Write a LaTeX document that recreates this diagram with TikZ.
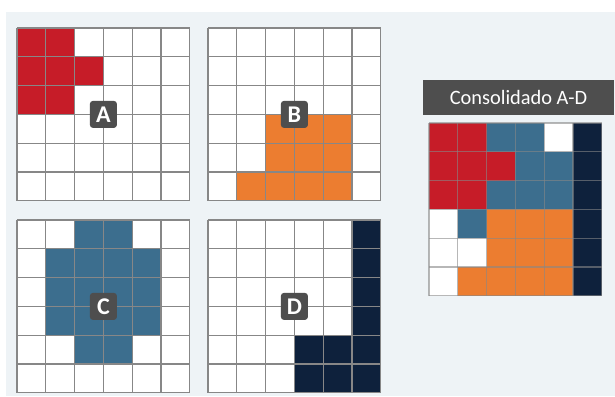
\documentclass[tikz,border=0pt]{standalone}
\usepackage{fontspec}
\setmainfont{Carlito}
\definecolor{cellRed}{RGB}{198, 28, 40}
\definecolor{cellOrange}{RGB}{236, 125, 48}
\definecolor{cellBlue}{RGB}{60, 110, 142}
\definecolor{cellNavy}{RGB}{14, 33, 60}
\definecolor{tagGrey}{RGB}{78, 78, 78}
\definecolor{panelBg}{RGB}{238, 243, 246}
\definecolor{lineGrey}{RGB}{135, 135, 135}
\usetikzlibrary{positioning}
\newcommand{\cellsz}{28.8}
\tikzset{
  gridline/.style={draw=lineGrey, line width=0.6pt},
  tag/.style={fill=tagGrey, text=white, rounded corners=1.5pt, minimum size=13.5pt,
              inner sep=0pt, font=\bfseries\fontsize{12}{12}\selectfont},
  titlebar/.style={fill=tagGrey, text=white, minimum width=95.5pt, minimum height=17.5pt,
                   inner sep=0pt, font=\fontsize{10.2}{11}\selectfont}
}

\begin{document}
\begin{tikzpicture}[x=0.5pt, y=-0.5pt]
    \useasboundingbox (0,0) rectangle (615,396);
    % Background panel
    \fill[panelBg] (6,12) rectangle (615,396);

    % Grid A (red)
    \begin{scope}[shift={(17,28)}]
        \fill[white] (0,0) rectangle (6*\cellsz,6*\cellsz);
        \foreach \c/\r in {0/0, 1/0, 0/1, 1/1, 2/1, 0/2, 1/2} {
            \fill[cellRed] (\c*\cellsz,\r*\cellsz) rectangle +(\cellsz,\cellsz);
        }
        \foreach \i in {0,...,6} {
            \draw[gridline] (\i*\cellsz,0) -- (\i*\cellsz,6*\cellsz);
            \draw[gridline] (0,\i*\cellsz) -- (6*\cellsz,\i*\cellsz);
        }
        \node[tag] (tagA) at (3*\cellsz,3*\cellsz) {A};
    \end{scope}

    % Grid B (orange)
    \begin{scope}[shift={(208,28)}]
        \fill[white] (0,0) rectangle (6*\cellsz,6*\cellsz);
        \foreach \c/\r in {2/3, 3/3, 4/3, 2/4, 3/4, 4/4, 1/5, 2/5, 3/5, 4/5} {
            \fill[cellOrange] (\c*\cellsz,\r*\cellsz) rectangle +(\cellsz,\cellsz);
        }
        \foreach \i in {0,...,6} {
            \draw[gridline] (\i*\cellsz,0) -- (\i*\cellsz,6*\cellsz);
            \draw[gridline] (0,\i*\cellsz) -- (6*\cellsz,\i*\cellsz);
        }
        \node[tag] (tagB) at (3*\cellsz,3*\cellsz) {B};
    \end{scope}

    % Grid C (blue)
    \begin{scope}[shift={(17,220)}]
        \fill[white] (0,0) rectangle (6*\cellsz,6*\cellsz);
        \foreach \c/\r in {2/0, 3/0, 1/1, 2/1, 3/1, 4/1, 1/2, 2/2, 3/2, 4/2,
                           1/3, 2/3, 3/3, 4/3, 2/4, 3/4} {
            \fill[cellBlue] (\c*\cellsz,\r*\cellsz) rectangle +(\cellsz,\cellsz);
        }
        \foreach \i in {0,...,6} {
            \draw[gridline] (\i*\cellsz,0) -- (\i*\cellsz,6*\cellsz);
            \draw[gridline] (0,\i*\cellsz) -- (6*\cellsz,\i*\cellsz);
        }
        \node[tag] (tagC) at (3*\cellsz,3*\cellsz) {C};
    \end{scope}

    % Grid D (navy)
    \begin{scope}[shift={(208,220)}]
        \fill[white] (0,0) rectangle (6*\cellsz,6*\cellsz);
        \foreach \c/\r in {5/0, 5/1, 5/2, 5/3, 3/4, 4/4, 5/4, 3/5, 4/5, 5/5} {
            \fill[cellNavy] (\c*\cellsz,\r*\cellsz) rectangle +(\cellsz,\cellsz);
        }
        \foreach \i in {0,...,6} {
            \draw[gridline] (\i*\cellsz,0) -- (\i*\cellsz,6*\cellsz);
            \draw[gridline] (0,\i*\cellsz) -- (6*\cellsz,\i*\cellsz);
        }
        \node[tag] (tagD) at (3*\cellsz,3*\cellsz) {D};
    \end{scope}

    % Consolidated grid
    \begin{scope}[shift={(429,123)}]
        \fill[white] (0,0) rectangle (6*\cellsz,6*\cellsz);
        \foreach \c/\r/\col in {0/0/cellRed, 1/0/cellRed, 2/0/cellBlue, 3/0/cellBlue,
                                0/1/cellRed, 1/1/cellRed, 2/1/cellRed, 3/1/cellBlue, 4/1/cellBlue,
                                0/2/cellRed, 1/2/cellRed, 2/2/cellBlue, 3/2/cellBlue, 4/2/cellBlue,
                                1/3/cellBlue, 2/3/cellOrange, 3/3/cellOrange, 4/3/cellOrange,
                                2/4/cellOrange, 3/4/cellOrange, 4/4/cellOrange,
                                1/5/cellOrange, 2/5/cellOrange, 3/5/cellOrange, 4/5/cellOrange} {
            \fill[\col] (\c*\cellsz,\r*\cellsz) rectangle +(\cellsz,\cellsz);
        }
        \foreach \r in {0,...,5} {
            \fill[cellNavy] (5*\cellsz,\r*\cellsz) rectangle +(\cellsz,\cellsz);
        }
        \foreach \i in {0,...,6} {
            \draw[gridline, draw opacity=0.6] (\i*\cellsz,0) -- (\i*\cellsz,6*\cellsz);
            \draw[gridline, draw opacity=0.6] (0,\i*\cellsz) -- (6*\cellsz,\i*\cellsz);
        }
    \end{scope}

    % Title
    \node[titlebar] (consolTitle) at (518.5,97.5) {Consolidado A-D};
\end{tikzpicture}
\end{document}
